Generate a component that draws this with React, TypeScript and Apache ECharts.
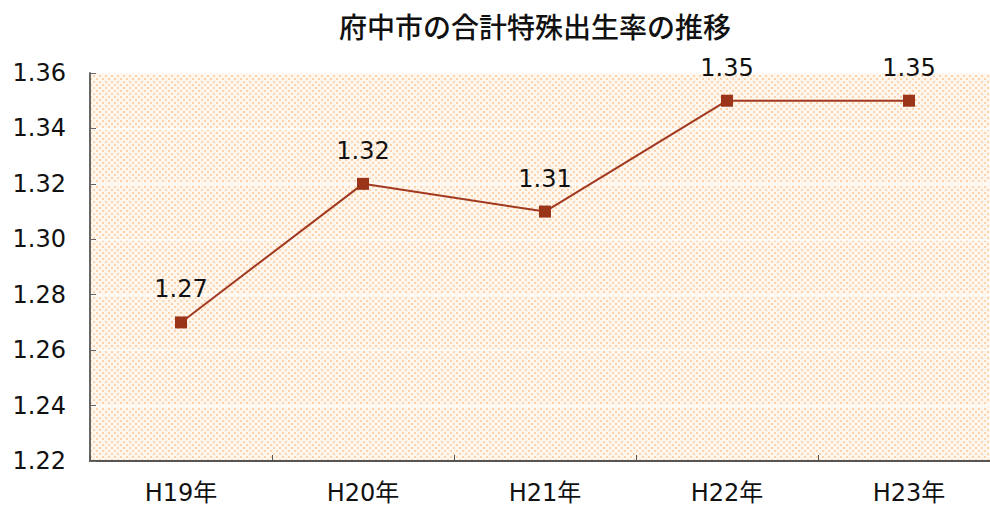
import React, { useEffect, useRef } from "react";
import * as echarts from "echarts";

const title = "府中市の合計特殊出生率の推移";
const categories = ["H19年", "H20年", "H21年", "H22年", "H23年"];
const rates = [1.27, 1.32, 1.31, 1.35, 1.35];
const yMin = 1.22;
const yMax = 1.36;
const yStep = 0.02;

function makePattern(): string {
  const c = document.createElement("canvas");
  c.width = 6;
  c.height = 6;
  const ctx = c.getContext("2d")!;
  ctx.fillStyle = "#fff6ee";
  ctx.fillRect(0, 0, 6, 6);
  ctx.fillStyle = "#fcd3ac";
  ctx.fillRect(0, 0, 2, 2);
  ctx.fillRect(3, 3, 2, 2);
  return c.toDataURL();
}

export default function App() {
  const ref = useRef<HTMLDivElement>(null);
  useEffect(() => {
    if (!ref.current) return;
    const chart = echarts.init(ref.current, null, { renderer: "svg" });
    const font = "'DejaVu Sans', 'Noto Sans CJK JP', sans-serif";
    const cjk = "'Noto Sans CJK JP', sans-serif";
    chart.setOption({
      animation: false,
      backgroundColor: "#ffffff",
      title: {
        text: title,
        left: 530,
        textAlign: "center",
        top: 7,
        textStyle: { fontFamily: cjk, fontSize: 28, fontWeight: 500, color: "#111" },
      },
      grid: {
        left: 90,
        width: 910,
        top: 73,
        bottom: 46,
        outerBoundsMode: "none",
        containLabel: false,
        show: true,
        borderWidth: 0,
        backgroundColor: { image: makePattern(), repeat: "repeat" } as any,
      } as any,
      xAxis: {
        type: "category",
        data: categories,
        boundaryGap: true,
        axisLine: { lineStyle: { color: "#555", width: 2 } },
        axisTick: { show: true, inside: true, length: 6, lineStyle: { color: "#555" } },
        axisLabel: { fontFamily: font, fontSize: 24, color: "#111", margin: 20 },
        splitLine: { show: false },
      },
      yAxis: {
        type: "value",
        min: yMin,
        max: yMax,
        interval: yStep,
        axisLine: { show: true, lineStyle: { color: "#666", width: 2 } },
        axisTick: { show: true, inside: true, length: 6, lineStyle: { color: "#666" } },
        axisLabel: {
          fontFamily: font,
          fontSize: 24,
          color: "#111",
          margin: 24,
          formatter: (v: number) => v.toFixed(2),
        },
        splitLine: { show: true, lineStyle: { color: "#ffffff", width: 1.5 } },
      },
      series: [
        {
          type: "line",
          data: rates,
          symbol: "rect",
          symbolSize: 12,
          lineStyle: { color: "#a0391f", width: 2 },
          itemStyle: { color: "#9b3519" },
          label: {
            show: true,
            position: "top",
            distance: 15,
            fontFamily: font,
            fontSize: 24,
            color: "#111",
            formatter: (p: any) => p.value.toFixed(2),
          },
        },
      ],
    });
    return () => chart.dispose();
  }, []);
  return (
    <div
      ref={ref}
      style={{ position: "absolute", left: 0, top: 0, width: 990, height: 507 }}
    />
  );
}
